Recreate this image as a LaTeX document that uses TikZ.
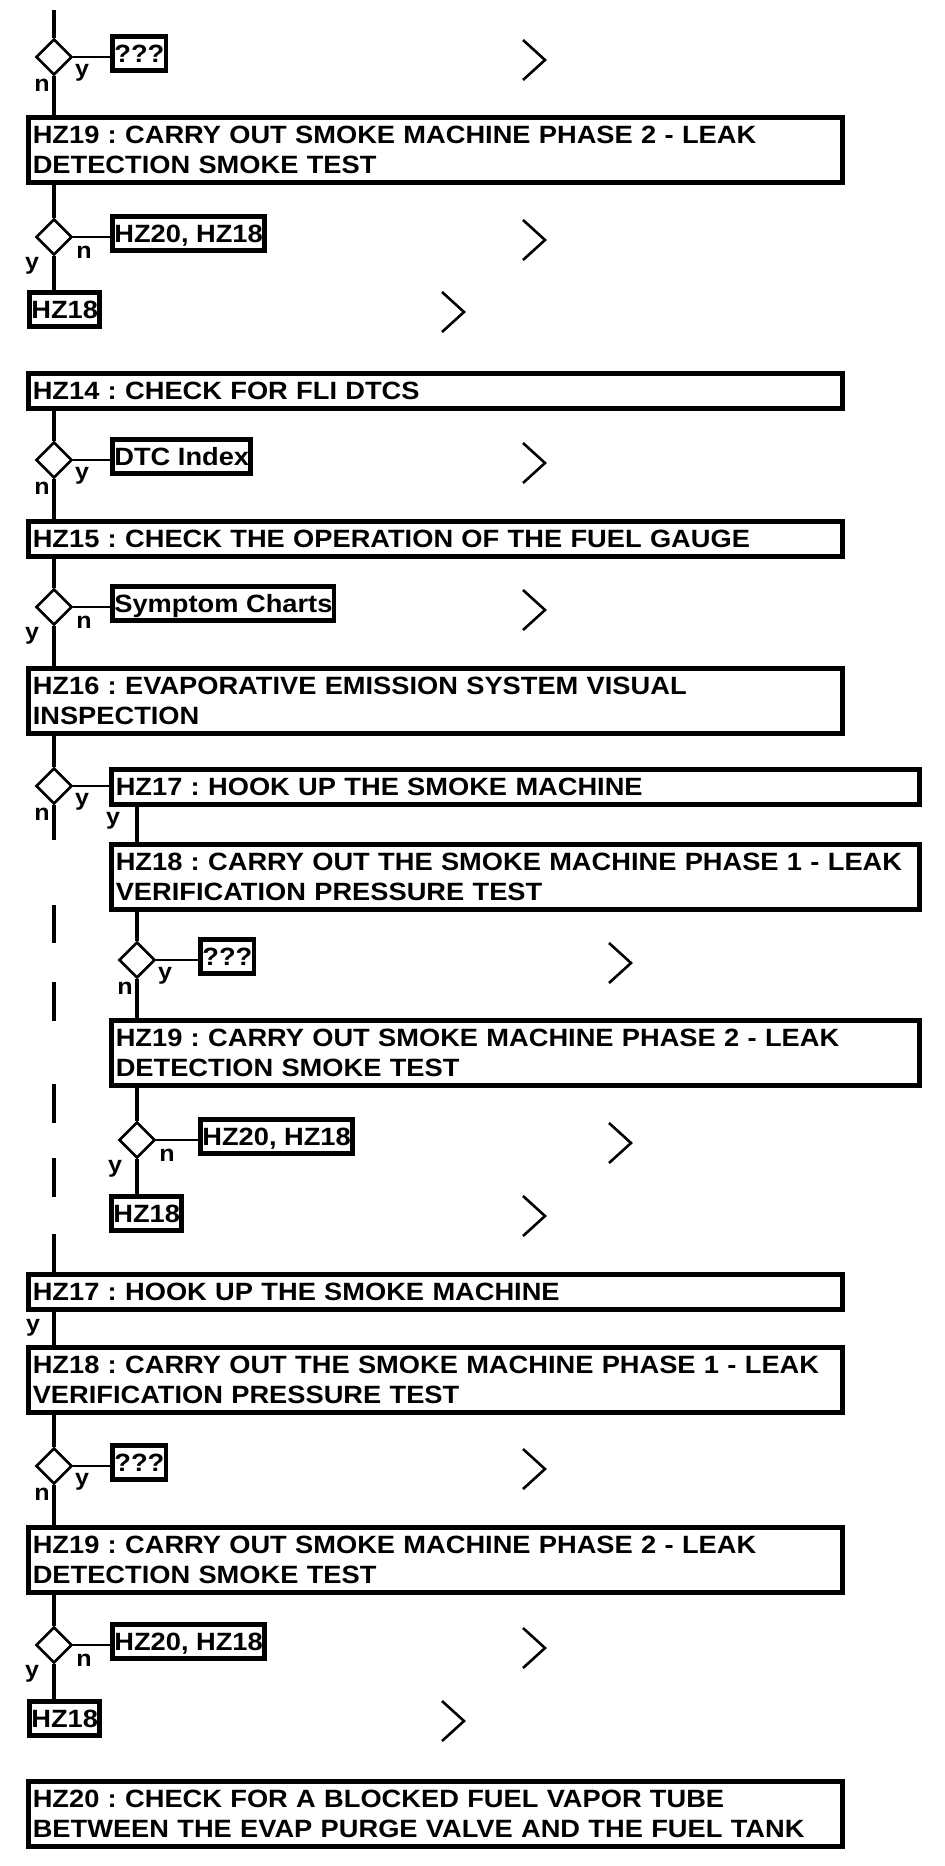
\documentclass[tikz,border=0pt]{standalone}
\usepackage{fontspec}
\setmainfont{Liberation Sans}[FakeStretch=1.09]
\frenchspacing
\usetikzlibrary{shapes.geometric}

\begin{document}
\begin{tikzpicture}[
  x=0.5pt, y=-0.5pt,
  font=\fontsize{12.5pt}{15pt}\selectfont\bfseries,
  stepbox/.style={draw, line width=2.4pt, anchor=north west, align=left, text width=403pt, inner xsep=2pt, inner ysep=4.25pt},
  subbox/.style={stepbox, text width=400pt},
  tagbox/.style={draw, line width=2.4pt, anchor=west, inner xsep=0.8pt, inner ysep=4pt, text height=9pt, text depth=0pt},
  choice/.style={draw, diamond, line width=1.3pt, minimum width=18pt, minimum height=18pt, inner sep=0pt},
  lbl/.style={font=\fontsize{11.5pt}{13pt}\selectfont\bfseries, inner sep=0pt},
  spine/.style={line width=2.2pt},
  link/.style={line width=1.4pt},
  chev/.style={line width=1.3pt}
]
\fill[white] (0,0) rectangle (944,1866);
\coordinate (top) at (54,10);

\node[choice] (dA1) at (54,57) {};
\node[tagbox] (tA1) at (110.4,53.5) {???};
\node[lbl] (yA1) at ([shift={(28,16)}]dA1) {y};
\node[lbl] (nA1) at ([shift={(-12,28)}]dA1) {n};
\node[stepbox] (hzA19) at (26.4,115.4) {HZ19 : CARRY OUT SMOKE MACHINE PHASE 2 - LEAK\\DETECTION SMOKE TEST};
\node[choice] (dA2) at (54,237) {};
\node[tagbox] (tA2) at (110.4,233.5) {HZ20, HZ18};
\node[lbl] (nA2) at ([shift={(30,15)}]dA2) {n};
\node[lbl] (yA2) at ([shift={(-22,29)}]dA2) {y};
\node[tagbox, anchor=north west] (sA18) at (27.4,290.4) {HZ18};

\node[stepbox] (hzB14) at (26.4,371.4) {HZ14 : CHECK FOR FLI DTCS};
\node[choice] (dB1) at (54,460) {};
\node[tagbox] (tB1) at (110.4,456.5) {DTC Index};
\node[lbl] (yB1) at ([shift={(28,16)}]dB1) {y};
\node[lbl] (nB1) at ([shift={(-12,28)}]dB1) {n};
\node[stepbox] (hzB15) at (26.4,519.4) {HZ15 : CHECK THE OPERATION OF THE FUEL GAUGE};
\node[choice] (dB2) at (54,607) {};
\node[tagbox] (tB2) at (110.4,603.5) {Symptom Charts};
\node[lbl] (nB2) at ([shift={(30,15)}]dB2) {n};
\node[lbl] (yB2) at ([shift={(-22,29)}]dB2) {y};
\node[stepbox] (hzB16) at (26.4,666.4) {HZ16 : EVAPORATIVE EMISSION SYSTEM VISUAL\\INSPECTION};

\node[choice] (dC) at (54,786) {};
\node[subbox] (hzC17) at (109.4,767.4) {HZ17 : HOOK UP THE SMOKE MACHINE};
\node[lbl] (yC) at ([shift={(28,16)}]dC) {y};
\node[lbl] (nC) at ([shift={(-12,28)}]dC) {n};
\node[lbl] (yC17) at (113,821) {y};
\node[subbox] (hzC18) at (109.4,842.4) {HZ18 : CARRY OUT THE SMOKE MACHINE PHASE 1 - LEAK\\VERIFICATION PRESSURE TEST};
\node[choice] (dC1) at (137,960) {};
\node[tagbox] (tC1) at (198.4,956.5) {???};
\node[lbl] (yC1) at ([shift={(28,16)}]dC1) {y};
\node[lbl] (nC1) at ([shift={(-12,28)}]dC1) {n};
\node[subbox] (hzC19) at (109.4,1018.4) {HZ19 : CARRY OUT SMOKE MACHINE PHASE 2 - LEAK\\DETECTION SMOKE TEST};
\node[choice] (dC2) at (137,1140) {};
\node[tagbox] (tC2) at (198.4,1136.5) {HZ20, HZ18};
\node[lbl] (nC2) at ([shift={(30,15)}]dC2) {n};
\node[lbl] (yC2) at ([shift={(-22,29)}]dC2) {y};
\node[tagbox, anchor=north west] (sC18) at (109.4,1194.4) {HZ18};

\node[stepbox] (hzD17) at (26.4,1272.4) {HZ17 : HOOK UP THE SMOKE MACHINE};
\node[lbl] (yD17) at (33,1328) {y};
\node[stepbox] (hzD18) at (26.4,1345.4) {HZ18 : CARRY OUT THE SMOKE MACHINE PHASE 1 - LEAK\\VERIFICATION PRESSURE TEST};
\node[choice] (dD1) at (54,1466) {};
\node[tagbox] (tD1) at (110.4,1462.5) {???};
\node[lbl] (yD1) at ([shift={(28,16)}]dD1) {y};
\node[lbl] (nD1) at ([shift={(-12,28)}]dD1) {n};
\node[stepbox] (hzD19) at (26.4,1525.4) {HZ19 : CARRY OUT SMOKE MACHINE PHASE 2 - LEAK\\DETECTION SMOKE TEST};
\node[choice] (dD2) at (54,1645) {};
\node[tagbox] (tD2) at (110.4,1641.5) {HZ20, HZ18};
\node[lbl] (nD2) at ([shift={(30,15)}]dD2) {n};
\node[lbl] (yD2) at ([shift={(-22,29)}]dD2) {y};
\node[tagbox, anchor=north west] (sD18) at (27.4,1699.4) {HZ18};
\node[stepbox] (hzE20) at (26.4,1779.4) {HZ20 : CHECK FOR A BLOCKED FUEL VAPOR TUBE\\BETWEEN THE EVAP PURGE VALVE AND THE FUEL TANK};

\draw[spine] (top) -- (dA1.north);
\draw[spine] (dA1.south) -- (dA1 |- hzA19.north);
\draw[spine] (dA2 |- hzA19.south) -- (dA2.north);
\draw[spine] (dA2.south) -- (dA2 |- sA18.north);
\draw[spine] (dB1 |- hzB14.south) -- (dB1.north);
\draw[spine] (dB1.south) -- (dB1 |- hzB15.north);
\draw[spine] (dB2 |- hzB15.south) -- (dB2.north);
\draw[spine] (dB2.south) -- (dB2 |- hzB16.north);
\draw[spine] (dC |- hzB16.south) -- (dC.north);
\draw[spine, dash pattern=on 17.5pt off 32.5pt on 19pt off 19.5pt on 19.5pt off 31.5pt on 19.5pt off 17.5pt on 19.5pt off 18.5pt on 40pt] (dC.south) -- (dC |- hzD17.north);
\draw[spine] (dC1 |- hzC17.south) -- (dC1 |- hzC18.north);
\draw[spine] (dC1 |- hzC18.south) -- (dC1.north);
\draw[spine] (dC1.south) -- (dC1 |- hzC19.north);
\draw[spine] (dC2 |- hzC19.south) -- (dC2.north);
\draw[spine] (dC2.south) -- (dC2 |- sC18.north);
\draw[spine] (dD1 |- hzD17.south) -- (dD1 |- hzD18.north);
\draw[spine] (dD1 |- hzD18.south) -- (dD1.north);
\draw[spine] (dD1.south) -- (dD1 |- hzD19.north);
\draw[spine] (dD2 |- hzD19.south) -- (dD2.north);
\draw[spine] (dD2.south) -- (dD2 |- sD18.north);

\foreach \d/\t in {dA1/tA1, dA2/tA2, dB1/tB1, dB2/tB2, dC/hzC17, dC1/tC1, dC2/tC2, dD1/tD1, dD2/tD2}
  \draw[link] (\d.east) -- (\d.east -| \t.west);

\foreach \x/\y in {545/60, 545/240, 464/312, 545/463, 545/610, 631/963, 631/1143, 545/1216, 545/1469, 545/1648, 464/1721}
  \draw[chev] (\x,\y) ++(-22,-20) -- ++(22,20) -- ++(-22,20);
\end{tikzpicture}
\end{document}
